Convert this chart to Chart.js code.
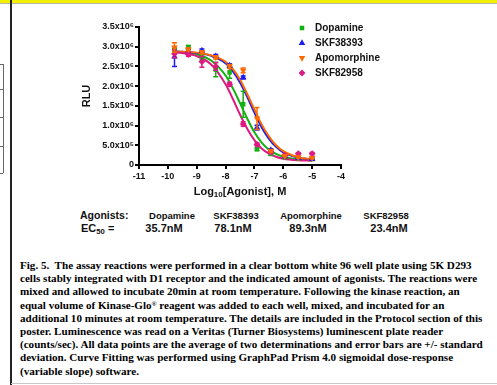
<!DOCTYPE html>
<html>
<head>
<meta charset="utf-8">
<script src="https://cdn.jsdelivr.net/npm/chart.js@4.4.1/dist/chart.umd.min.js"></script>
<style>
  body { margin: 0; width: 497px; height: 385px; overflow: hidden; background: #fff; position: relative; }
  #topbar { position: absolute; left: 0; top: 0; width: 497px; height: 3px; background: #f0f000; border-bottom: 1px solid #b8b8a0; }
  #vline { position: absolute; left: 10px; top: 0; width: 1.5px; height: 385px; background: #222; }
  #bline { position: absolute; left: 11px; top: 383px; width: 486px; height: 1px; background: #c8c8c8; }
  .tbl { position: absolute; left: 0; width: 3px; border-top: 1px solid #666; }
  #tblv { position: absolute; left: 3px; top: 64px; width: 1px; height: 109px; background: #666; }
  #wrap { position: absolute; left: 0; top: 0; width: 497px; height: 205px; }
  .t { position: absolute; white-space: nowrap; font-family: "Liberation Sans", Arial, sans-serif; font-weight: bold; color: #111; }
  .c { transform: translateX(-50%); }
  .cap { position: absolute; left: 20px; white-space: pre; font-family: "Liberation Serif", "Times New Roman", serif; font-weight: bold; font-size: 11.1px; line-height: 12px; color: #000; }
  sub { font-size: 0.7em; vertical-align: -0.25em; line-height: 0; }
  sup { font-size: 0.6em; vertical-align: 0.5em; line-height: 0; }
</style>
</head>
<body>
<div id="topbar"></div>
<div id="vline"></div>
<div id="bline"></div>
<div class="tbl" style="top:64px"></div>
<div class="tbl" style="top:89px"></div>
<div class="tbl" style="top:117px"></div>
<div class="tbl" style="top:146px"></div>
<div class="tbl" style="top:173px"></div>
<div id="tblv"></div>
<div id="wrap"><canvas id="chart" width="497" height="205"></canvas></div>
<div id="table"></div>
<div id="caption"></div>
<script>
// log10 of agonist concentration (M), 3-fold dilutions
const logConc = [-9.77, -9.29, -8.82, -8.34, -7.86, -7.39, -6.91, -6.43, -5.95, -5.48, -5.0];

// mean RLU and SD per agonist
const dopamineMean = [2.90e6, 2.99e6, 2.72e6, 2.42e6, 2.35e6, 1.54e6, 0.40e6, 0.28e6, 0.20e6, 0.17e6, 0.15e6];
const dopamineSD   = [0.05e6, 0.04e6, 0.08e6, 0.18e6, 0.15e6, 0.33e6, 0.03e6, 0.03e6, 0.02e6, 0.02e6, 0.02e6];
const skf38393Mean = [2.75e6, 2.90e6, 2.90e6, 2.76e6, 2.52e6, 2.22e6, 0.95e6, 0.38e6, 0.22e6, 0.18e6, 0.15e6];
const skf38393SD   = [0.25e6, 0.04e6, 0.04e6, 0.04e6, 0.05e6, 0.04e6, 0.06e6, 0.03e6, 0.02e6, 0.02e6, 0.02e6];
const apomorphineMean = [2.98e6, 2.93e6, 2.86e6, 2.73e6, 2.50e6, 2.40e6, 1.18e6, 0.36e6, 0.23e6, 0.20e6, 0.18e6];
const apomorphineSD   = [0.12e6, 0.04e6, 0.04e6, 0.04e6, 0.05e6, 0.06e6, 0.28e6, 0.03e6, 0.02e6, 0.02e6, 0.02e6];
const skf82958Mean = [2.82e6, 2.80e6, 2.62e6, 2.50e6, 2.05e6, 1.04e6, 0.52e6, 0.32e6, 0.25e6, 0.29e6, 0.29e6];
const skf82958SD   = [0.10e6, 0.04e6, 0.14e6, 0.10e6, 0.05e6, 0.06e6, 0.04e6, 0.03e6, 0.02e6, 0.02e6, 0.03e6];

// fitted curves
const fitX = [-9.8, -9.5, -9, -8.5, -8, -7.75, -7.5, -7.25, -7, -6.75, -6.5, -6.25, -6, -5.5, -5];
const dopamineFit    = [2.87e6, 2.86e6, 2.81e6, 2.65e6, 2.27e6, 1.95e6, 1.57e6, 1.18e6, 0.83e6, 0.57e6, 0.39e6, 0.28e6, 0.21e6, 0.14e6, 0.12e6];
const skf38393Fit    = [2.88e6, 2.87e6, 2.84e6, 2.77e6, 2.58e6, 2.38e6, 2.09e6, 1.73e6, 1.33e6, 0.96e6, 0.67e6, 0.46e6, 0.32e6, 0.19e6, 0.14e6];
const apomorphineFit = [2.88e6, 2.87e6, 2.85e6, 2.78e6, 2.62e6, 2.44e6, 2.17e6, 1.80e6, 1.41e6, 1.03e6, 0.73e6, 0.50e6, 0.35e6, 0.20e6, 0.14e6];
const skf82958Fit    = [2.87e6, 2.84e6, 2.76e6, 2.55e6, 2.05e6, 1.68e6, 1.28e6, 0.92e6, 0.63e6, 0.42e6, 0.29e6, 0.21e6, 0.16e6, 0.12e6, 0.11e6];

const agonists = ['Dopamine', 'SKF38393', 'Apomorphine', 'SKF82958'];
const ec50 = ['35.7nM', '78.1nM', '89.3nM', '23.4nM'];
const yTickLabels = ['0', '5.0x10\u2075', '1.0x10\u2076', '1.5x10\u2076', '2.0x10\u2076', '2.5x10\u2076', '3.0x10\u2076', '3.5x10\u2076'];

const captionLines = [
  'Fig. 5.  The assay reactions were performed in a clear bottom white 96 well plate using 5K D293',
  'cells stably integrated with D1 receptor and the indicated amount of agonists. The reactions were',
  'mixed and allowed to incubate 20min at room temperature. Following the kinase reaction, an',
  'equal volume of Kinase-Glo<sup>®</sup> reagent was added to each well, mixed, and incubated for an',
  'additional 10 minutes at room temperature. The details are included in the Protocol section of this',
  'poster. Luminescence was read on a Veritas (Turner Biosystems) luminescent plate reader',
  '(counts/sec). All data points are the average of two determinations and error bars are +/- standard',
  'deviation. Curve Fitting was performed using GraphPad Prism 4.0 sigmoidal dose-response',
  '(variable slope) software.'
];

const FONT = '"Liberation Sans", Arial, sans-serif';
const colors = ['#12b012', '#1c1cf0', '#ff6a00', '#dc1a82'];
const styles = [
  { pointStyle: 'rect', rotation: 0, radius: 3.2 },
  { pointStyle: 'triangle', rotation: 0, radius: 3.8 },
  { pointStyle: 'triangle', rotation: 180, radius: 3.8 },
  { pointStyle: 'rectRot', rotation: 0, radius: 3.4 }
];
const means = [dopamineMean, skf38393Mean, apomorphineMean, skf82958Mean];
const sds = [dopamineSD, skf38393SD, apomorphineSD, skf82958SD];
const fits = [dopamineFit, skf38393Fit, apomorphineFit, skf82958Fit];
const pointOrder = [4, 3, 1, 2];
const lineOrder = [14, 13, 12, 11];

const datasets = [];
agonists.forEach((name, k) => {
  datasets.push({
    label: name + ' fit', type: 'line',
    data: fitX.map((x, i) => ({ x, y: fits[k][i] })),
    borderColor: colors[k], borderWidth: 2, pointRadius: 0,
    cubicInterpolationMode: 'monotone', fill: false, order: lineOrder[k]
  });
  datasets.push({
    label: name, type: 'scatter', showLine: false,
    data: logConc.map((x, i) => ({ x, y: means[k][i] })),
    errors: sds[k],
    backgroundColor: colors[k], borderColor: colors[k], borderWidth: 0,
    pointStyle: styles[k].pointStyle, rotation: styles[k].rotation,
    pointRadius: styles[k].radius, order: pointOrder[k]
  });
});

// +/- SD bars drawn through the y scale
const errorBars = {
  id: 'errorBars',
  beforeDatasetDraw(chart, args) {
    const ds = chart.data.datasets[args.index];
    if (!ds.errors) return;
    const meta = chart.getDatasetMeta(args.index);
    const y = chart.scales.y, ctx = chart.ctx;
    ctx.save();
    ctx.strokeStyle = ds.borderColor;
    ctx.lineWidth = 1.5;
    meta.data.forEach((pt, i) => {
      const v = ds.data[i].y, e = ds.errors[i];
      const top = y.getPixelForValue(v + e), bot = y.getPixelForValue(v - e);
      ctx.beginPath();
      ctx.moveTo(pt.x, top); ctx.lineTo(pt.x, bot);
      ctx.moveTo(pt.x - 2.5, top); ctx.lineTo(pt.x + 2.5, top);
      ctx.moveTo(pt.x - 2.5, bot); ctx.lineTo(pt.x + 2.5, bot);
      ctx.stroke();
    });
    ctx.restore();
  }
};

// legend in the upper right, plus axis titles
const extras = {
  id: 'extras',
  afterDraw(chart) {
    const ctx = chart.ctx, a = chart.chartArea;
    ctx.save();
    ctx.textBaseline = 'middle';
    ctx.font = 'bold 10px ' + FONT;
    agonists.forEach((name, k) => {
      const y = 28 + k * 15;
      ctx.fillStyle = colors[k];
      ctx.strokeStyle = colors[k];
      Chart.helpers.drawPoint(ctx, { pointStyle: styles[k].pointStyle, rotation: styles[k].rotation, radius: styles[k].radius, borderWidth: 0 }, 302, y);
      ctx.fillStyle = '#111';
      ctx.textAlign = 'left';
      ctx.fillText(name, 315, y);
    });

    // y title
    ctx.save();
    ctx.translate(a.left - 52, (a.top + a.bottom) / 2);
    ctx.rotate(-Math.PI / 2);
    ctx.textAlign = 'center';
    ctx.font = 'bold 11px ' + FONT;
    ctx.fillStyle = '#111';
    ctx.fillText('RLU', 0, 0);
    ctx.restore();

    // x title with subscript
    const parts = [['Log', 11, 0], ['10', 8, 3], ['[Agonist], M', 11, 0]];
    let w = 0;
    parts.forEach(p => { ctx.font = 'bold ' + p[1] + 'px ' + FONT; w += ctx.measureText(p[0]).width; });
    let x = (a.left + a.right) / 2 - w / 2;
    const yb = a.bottom + 27;
    ctx.fillStyle = '#111';
    ctx.textAlign = 'left';
    parts.forEach(p => {
      ctx.font = 'bold ' + p[1] + 'px ' + FONT;
      ctx.fillText(p[0], x, yb + p[2]);
      x += ctx.measureText(p[0]).width;
    });
    ctx.restore();
  }
};

new Chart(document.getElementById('chart'), {
  type: 'scatter',
  data: { datasets },
  options: {
    responsive: false, animation: false, devicePixelRatio: 1,
    layout: { padding: { top: 27, right: 156, left: 0, bottom: 0 } },
    plugins: { legend: { display: false }, tooltip: { enabled: false } },
    scales: {
      x: {
        type: 'linear', min: -11, max: -4,
        ticks: { stepSize: 1, autoSkip: false, maxRotation: 0, padding: 2, color: '#111', font: { family: FONT, size: 9, weight: 'bold' } },
        grid: { drawOnChartArea: false, drawTicks: true, tickLength: 4, color: '#000', lineWidth: 2 },
        border: { color: '#000', width: 2 },
        afterFit: s => { s.height = 40; }
      },
      y: {
        min: 0, max: 3.5e6,
        ticks: { stepSize: 5e5, padding: 1, color: '#111', font: { family: FONT, size: 9, weight: 'bold' },
                 callback: (v, i) => yTickLabels[i] },
        grid: { drawOnChartArea: false, drawTicks: true, tickLength: 4, color: '#000', lineWidth: 2 },
        border: { color: '#000', width: 2 },
        afterFit: s => { s.width = 139; }
      }
    }
  },
  plugins: [errorBars, extras]
});

// EC50 table
const table = document.getElementById('table');
const nameX = [172, 236, 311, 386];
const valX = [164, 233, 308, 389];
let html = '<div class="t" style="left:80px;top:209px;font-size:10.5px;line-height:13px">Agonists:</div>' +
           '<div class="t" style="left:81px;top:221px;font-size:11px;line-height:14px">EC<sub>50</sub> =</div>';
agonists.forEach((n, k) => {
  html += '<div class="t c" style="left:' + nameX[k] + 'px;top:209px;font-size:9.5px;line-height:13px">' + n + '</div>';
  html += '<div class="t c" style="left:' + valX[k] + 'px;top:221px;font-size:11px;line-height:14px">' + ec50[k] + '</div>';
});
table.innerHTML = html;

// caption
const cap = document.getElementById('caption');
cap.innerHTML = captionLines.map((l, i) =>
  '<div class="cap" style="top:' + (259 + i * 13.2).toFixed(1) + 'px">' + l + '</div>').join('');
</script>
</body>
</html>
